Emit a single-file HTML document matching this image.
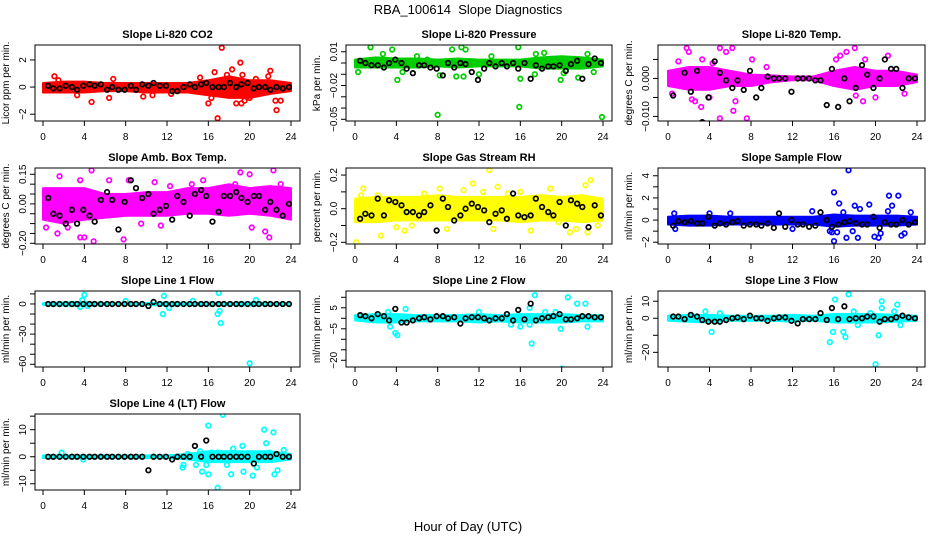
<!DOCTYPE html>
<html><head><meta charset="utf-8"><style>
body{margin:0;background:#fff}
svg{display:block;font-family:"Liberation Sans",sans-serif}
</style></head><body>
<svg id="chart" width="936" height="540">
<text x="468" y="14" text-anchor="middle" font-size="13">RBA_100614&#160;&#160;Slope Diagnostics</text>
<text x="468" y="531" text-anchor="middle" font-size="13">Hour of Day (UTC)</text>
</svg>
<script>
const blackHours=[0.5,1,1.6,2.2,2.8,3.3,3.9,4.5,5.0,5.6,6.2,6.7,7.3,7.9,8.5,9.0,9.6,10.2,10.7,11.3,11.9,12.5,13.0,13.6,14.2,14.7,15.3,15.8,16.4,17.0,17.5,18.1,18.7,19.2,19.8,20.4,20.9,21.5,22.0,22.6,23.2,23.8];
const bandHours=[0,2,4,6,8,10,12,14,16,18,20,22,24];

const co2Hi=[0.3,0.4,0.4,0.3,0.3,0.3,0.3,0.3,0.5,0.8,0.5,0.5,0.3];
const co2Lo=[-0.4,-0.4,-0.4,-0.3,-0.3,-0.4,-0.4,-0.4,-0.6,-0.8,-0.8,-0.5,-0.3];
const co2Out=[[1.1,0.8],[3.3,-0.6],[4.7,-1.1],[6.4,-0.8],[6.8,0.6],[9.7,-0.7],[10.6,-0.6],[15.2,0.7],[16.6,1.1],[16.9,-2.3],[17.3,2.9],[16.0,-1.2],[18.3,1.3],[18.7,-1.2],[19.1,1.8],[19.2,-1.2],[19.5,-1.0],[19.3,0.9],[20.6,0.6],[21.8,0.8],[22.0,1.2],[22.5,-1.0],[22.6,-1.7],[23.0,-1.0],[17.8,0.9],[18.5,0.5],[20.0,-0.8],[1.5,0.5],[12.4,-0.5],[16.3,-0.8]];
const co2Black=[0.1,-0.1,-0.1,0.1,0,-0.2,0.1,0.2,0.1,0.2,-0.2,0,-0.2,-0.2,0.1,-0.2,0.2,0.1,0.3,0.1,0.1,-0.3,-0.3,0,0.2,0,0.2,0.3,0,0,0,0.3,0,0.2,0.3,-0.1,0,0,-0.2,0,-0.1,0];

const presHi=[0.003,0.005,0.004,0.004,0.003,0.004,0.003,0.003,0.003,0.005,0.006,0.005,0.003];
const presLo=[-0.004,-0.004,-0.004,-0.004,-0.003,-0.004,-0.003,-0.003,-0.003,-0.005,-0.005,-0.005,-0.003];
const presOut=[[0.3,-0.008],[1.5,0.014],[3.6,0.012],[4.1,-0.015],[4.6,-0.008],[6.0,0.006],[8.0,-0.046],[8.2,-0.011],[9.4,0.012],[9.8,-0.012],[10.3,0.014],[10.7,0.012],[10.5,-0.012],[12.0,-0.01],[15.8,0.014],[16.0,-0.014],[15.9,-0.039],[17.4,-0.01],[17.5,0.008],[19.9,-0.015],[20.2,-0.009],[21.6,-0.013],[22.5,0.008],[23.1,-0.008],[23.9,-0.048],[2.7,0.008],[7.0,0.003],[13.2,0.006],[18.3,0.009]];
const presBlack=[0.002,0,-0.002,-0.002,-0.004,0,0.003,0,-0.005,-0.009,-0.002,-0.002,-0.004,-0.005,-0.011,0,-0.004,0,-0.001,-0.008,-0.015,-0.005,0,-0.003,0,-0.003,0,-0.005,0,-0.014,-0.002,-0.005,-0.003,-0.003,-0.002,-0.007,-0.001,0.002,-0.014,-0.001,0.004,0];

const tempHi=[0.002,0.003,0.003,0.002,0.001,0.0008,0.0005,0.0005,0.002,0.003,0.002,0.002,0.001];
const tempLo=[-0.002,-0.003,-0.003,-0.002,-0.002,-0.001,-0.0005,-0.0005,-0.002,-0.003,-0.002,-0.002,-0.001];
const tempOut=[[1.8,0.008],[2.0,0.007],[1.0,0.0045],[2.3,-0.0055],[2.6,-0.006],[3.3,0.005],[3.2,-0.0075],[4.3,0.004],[5.0,0.008],[5.0,-0.0105],[5.6,0.007],[6.2,0.008],[6.3,-0.0085],[6.5,-0.006],[7.6,-0.0105],[8.1,0.005],[4.0,-0.005],[16.2,0.005],[16.6,0.006],[17.2,0.007],[18.0,0.008],[18.1,-0.0045],[18.8,-0.006],[19.0,0.005],[20.0,-0.005],[21.2,0.006],[22.8,-0.004],[0.4,-0.004],[9.5,0.003]];
const tempBlack=[-0.0045,-0.0135,0.0015,-0.0035,0.002,-0.0115,-0.005,0.0045,0.0015,-0.0005,-0.0025,-0.0005,-0.003,0.002,-0.005,-0.0025,0.0005,0,0,0,-0.0035,0,0,0,-0.0005,-0.0005,-0.007,0.0025,-0.0075,0,-0.006,-0.0025,0.0035,0.001,-0.0025,0,0.005,0.0025,0.0025,-0.0025,0,0];

const ambHi=[0.08,0.08,0.08,0.05,0.05,0.06,0.06,0.08,0.08,0.1,0.08,0.09,0.08];
const ambLo=[-0.08,-0.1,-0.08,-0.07,-0.06,-0.06,-0.06,-0.05,-0.05,-0.06,-0.05,-0.06,-0.08];
const ambOut=[[1.6,0.14],[0.3,-0.12],[1.4,-0.15],[3.6,0.12],[3.6,-0.17],[4.0,-0.17],[4.7,0.17],[4.9,-0.19],[7.8,-0.18],[8.3,0.12],[10.8,0.11],[14.4,0.1],[18.6,0.1],[19.1,0.16],[20.0,0.15],[20.2,-0.12],[21.5,-0.14],[21.9,-0.17],[22.3,0.17],[23.0,0.1],[6.4,0.12],[2.4,-0.12],[11.4,-0.11],[15.5,0.12],[12.3,0.09],[9.5,-0.1]];
const ambBlack=[0.03,-0.05,-0.06,-0.1,-0.03,-0.1,-0.03,-0.06,-0.09,0.02,0.06,0.02,-0.13,0.01,0.12,0.08,0.03,0.05,-0.05,-0.03,-0.01,-0.08,0.04,0.01,-0.06,0.05,0.07,0.04,-0.09,-0.04,0.04,0.04,0.06,0.03,0.01,0.04,0.04,-0.03,0.01,-0.03,-0.06,0];

const rhHi=[0.06,0.07,0.07,0.07,0.08,0.07,0.07,0.07,0.07,0.08,0.07,0.08,0.06];
const rhLo=[-0.08,-0.08,-0.07,-0.07,-0.07,-0.07,-0.07,-0.07,-0.08,-0.07,-0.07,-0.08,-0.07];
const rhOut=[[0.1,-0.2],[0.6,0.08],[0.8,0.12],[2.5,-0.16],[4.0,-0.11],[4.8,-0.13],[5.5,-0.1],[8.2,0.12],[8.9,-0.12],[10.5,0.11],[11.4,0.15],[12.4,0.1],[13.0,0.23],[13.4,-0.12],[13.8,0.13],[16.0,0.1],[17.0,-0.13],[18.9,0.12],[20.8,-0.14],[21.4,-0.12],[22.3,0.14],[22.8,0.17],[22.5,-0.14],[23.5,-0.1],[6.7,0.09],[2.2,0.08],[14.8,0.09],[19.7,-0.08]];
const rhBlack=[-0.06,-0.03,-0.04,0.06,-0.04,0.05,0.04,0.02,-0.02,-0.02,-0.04,-0.02,0.02,-0.13,0.06,0.01,-0.07,-0.04,0,0.03,0.01,-0.01,-0.08,-0.03,-0.01,-0.06,0.09,-0.04,-0.05,-0.04,0.06,0.01,-0.02,-0.04,0.04,-0.1,0.05,0.03,0.01,-0.11,0.02,-0.04];

const sfHi=[0.3,0.4,0.4,0.3,0.3,0.3,0.3,0.3,0.5,0.4,0.4,0.4,0.3];
const sfLo=[-0.4,-0.5,-0.5,-0.4,-0.4,-0.4,-0.4,-0.4,-0.6,-0.5,-0.5,-0.5,-0.4];
const sfOut=[[0.6,0.6],[0.7,-0.8],[4.0,0.6],[6.0,0.6],[12.0,-0.8],[13.9,0.8],[15.6,-1.0],[15.8,-1.1],[16.0,2.5],[16.3,-1.1],[16.5,1.5],[16.0,-1.9],[17.2,-1.6],[17.4,4.5],[17.8,-1.0],[18.0,1.3],[18.3,-1.6],[18.5,1.0],[19.4,1.4],[19.9,-1.5],[20.3,-1.6],[20.5,-1.2],[21.3,2.2],[21.6,1.3],[22.2,2.2],[22.5,-1.4],[22.8,-1.2],[23.4,0.7],[21.2,0.8],[16.9,0.7]];
const sfBlack=[-0.5,-0.1,-0.2,-0.1,-0.3,-0.3,0.3,-0.5,-0.3,-0.4,-0.2,-0.1,-0.5,-0.4,-0.4,-0.5,-0.3,-0.7,0.6,-0.6,0,-0.4,-0.4,-0.6,-0.5,0.7,0,-0.6,-0.4,-0.2,-0.1,-0.3,-0.4,-0.4,0.3,-0.7,-0.2,-0.4,-0.4,0,-0.4,-0.2];

const l1Hi=[1,1.5,2,1,1,1,1.5,1,1.5,1,1.5,1,1];
const l1Lo=[-1,-1.5,-2,-1,-1,-1,-1.5,-1,-1.5,-1,-1.5,-1,-1];
const l1Out=[[3.8,4],[4.0,9],[3.6,-3],[4.3,-2],[11.6,-10],[11.7,8],[12.2,-4],[16.9,-10],[17.0,11],[17.1,-7],[17.2,-19],[20.0,-59],[20.6,4],[8.0,3],[14.5,3]];
const l1Black=[0,0,0,0,0,0,0,0,0,0,0,0,0,0,0,0,0,-2,2,0,0,0,0,0,0,0,0,0,0,0,0,0,0,0,0,0,0,0,0,0,0,0];

const l2Hi=[1.5,2,2,1.5,1.5,1.5,2,1.5,2,2,2,1.5,1.5];
const l2Lo=[-1,-2,-2,-1.5,-1.5,-1.5,-2,-1.5,-2,-2,-2,-1.5,-1.5];
const l2Out=[[3.4,-4],[3.9,-7],[4.1,-8],[4.9,4.5],[12.0,3],[15.1,-3],[16.0,-4],[16.9,5],[17.1,-12],[17.4,11],[18.4,3],[19.9,-5],[20.0,-24],[20.6,10],[21.5,7],[22.3,7],[22.5,-4],[16.9,-3],[19.4,3],[3.2,3]];
const l2Black=[1.5,1,0,2,1,-1,4.5,-2,-2,-1,0,0.5,-0.5,1,1,0,0.5,-2.5,0,0.5,0.5,0,-1,0,0,2,-1,4,-0.5,7,-1,0,0.5,1,2,-0.5,-0.5,0,1,1,0.5,0.5];

const l3Hi=[1.5,2,2,1.5,1.5,1.5,2,1.5,2.5,2.5,2.5,2,1.5];
const l3Lo=[-1.5,-2,-2.5,-1.5,-1.5,-1.5,-2,-1.5,-2.5,-2.5,-2.5,-2,-1.5];
const l3Out=[[3.6,4],[4.2,-8],[5.0,3],[15.6,-14],[15.9,-8],[16.1,11],[16.9,-8],[17.1,-11],[17.4,14],[17.9,4],[18.3,-4],[19.5,3],[20.0,-27],[20.3,-10],[20.6,10],[20.6,6],[21.8,4],[22.1,8],[22.4,-4],[2.3,1.5]];
const l3Black=[1,1,-0.5,2,1,-1,-2,-2,-2,-1,0,0.5,-0.5,1.5,0,0,-1.5,0,0.5,0.5,-1.5,-3,-0.5,-0.5,-0.5,3,-1,6,-0.5,7,-0.5,0,0,1,1,-2,-0.5,-0.5,0.5,1.5,0.5,0];

const l4Hi=[0.5,0.5,0.5,0.5,0.5,0.5,0.5,1,2,2,2,2,1];
const l4Lo=[-0.5,-0.5,-0.5,-0.5,-0.5,-0.5,-0.5,-1,-2,-2,-2,-2,-1];
const l4Out=[[1.8,1.5],[3.9,-1],[13.5,-4],[13.6,-3],[14.0,1],[14.8,-3],[15.2,2],[15.4,-5.5],[16.0,11.5],[16.0,-6.5],[16.3,1.5],[16.9,-11.5],[16.9,1.5],[17.4,15.5],[17.8,-3],[18.2,-6.5],[18.4,3],[19.3,4],[19.4,-5.5],[20.3,-7],[20.7,-4],[21.4,10],[21.6,5],[22.3,9],[22.4,-6.5],[22.7,-5],[23.3,2.5],[21.9,1.5],[15.8,-3]];
const l4Black=[0,0,0,0,0,0,0,0,0,0,0,0,0,0,0,0,0,-5,0,0,0,-1,0,0,0,4,0,6,0,0,0,0,0,0,0,-2.5,0,0,0,1,0,0];

const xTicks=[0,4,8,12,16,20,24];

const panels=[
 {name:'co2',title:'Slope Li-820 CO2',ylab:'Licor ppm per min.',col:0,row:0,ymin:-2.5,ymax:3.1,ticks:[2,0,-2],labels:['2','0','\u22122'],color:'#ff0000',hi:co2Hi,lo:co2Lo,out:co2Out,blk:co2Black},
 {name:'pressure',title:'Slope Li-820 Pressure',ylab:'kPa per min.',col:1,row:0,ymin:-0.0515,ymax:0.016,ticks:[0.01,0,-0.01,-0.02,-0.03,-0.04,-0.05],labels:['0.01','','','\u22120.02','','','\u22120.05'],color:'#00cd00',hi:presHi,lo:presLo,out:presOut,blk:presBlack},
 {name:'temp',title:'Slope Li-820 Temp.',ylab:'degrees C per min.',col:2,row:0,ymin:-0.0112,ymax:0.0088,ticks:[0.005,0,-0.005,-0.01],labels:['','0.000','','\u22120.010'],color:'#ff00ff',hi:tempHi,lo:tempLo,out:tempOut,blk:tempBlack},
 {name:'amb-box-temp',title:'Slope Amb. Box Temp.',ylab:'degrees C per min.',col:0,row:1,ymin:-0.2035,ymax:0.182,ticks:[0.15,0.1,0.05,0,-0.05,-0.1,-0.15,-0.2],labels:['0.15','','','0.00','','','','\u22120.20'],color:'#ff00ff',hi:ambHi,lo:ambLo,out:ambOut,blk:ambBlack},
 {name:'gas-rh',title:'Slope Gas Stream RH',ylab:'percent per min.',col:1,row:1,ymin:-0.21,ymax:0.242,ticks:[0.2,0.1,0,-0.1,-0.2],labels:['0.2','','0.0','','\u22120.2'],color:'#ffff00',hi:rhHi,lo:rhLo,out:rhOut,blk:rhBlack},
 {name:'sample-flow',title:'Slope Sample Flow',ylab:'ml/min per min.',col:2,row:1,ymin:-2.16,ymax:4.7,ticks:[4,3,2,1,0,-1,-2],labels:['4','','2','','0','','\u22122'],color:'#0000ff',hi:sfHi,lo:sfLo,out:sfOut,blk:sfBlack},
 {name:'line1-flow',title:'Slope Line 1 Flow',ylab:'ml/min per min.',col:0,row:2,ymin:-62.7,ymax:12.9,ticks:[10,0,-10,-20,-30,-40,-50,-60],labels:['','0','','','\u221230','','','\u221260'],color:'#00ffff',hi:l1Hi,lo:l1Lo,out:l1Out,blk:l1Black},
 {name:'line2-flow',title:'Slope Line 2 Flow',ylab:'ml/min per min.',col:1,row:2,ymin:-23.2,ymax:13,ticks:[10,5,0,-5,-10,-15,-20],labels:['','5','','\u22125','','','\u221220'],color:'#00ffff',hi:l2Hi,lo:l2Lo,out:l2Out,blk:l2Black},
 {name:'line3-flow',title:'Slope Line 3 Flow',ylab:'ml/min per min.',col:2,row:2,ymin:-28.6,ymax:16,ticks:[10,0,-10,-20],labels:['10','0','','\u221220'],color:'#00ffff',hi:l3Hi,lo:l3Lo,out:l3Out,blk:l3Black},
 {name:'line4-flow',title:'Slope Line 4 (LT) Flow',ylab:'ml/min per min.',col:0,row:3,ymin:-12.3,ymax:15.8,ticks:[15,10,5,0,-5,-10],labels:['','10','','0','','\u221210'],color:'#00ffff',hi:l4Hi,lo:l4Lo,out:l4Out,blk:l4Black}
];
const colBox=[[35,300,43,291],[346,612,355,603],[658,925,668,917]];
const rowTop=[45,168,291,414];
const BH=76;
const NS='http://www.w3.org/2000/svg';
const svg=document.getElementById('chart');
function mk(tag,attrs,parent){const e=document.createElementNS(NS,tag);for(const k in attrs)e.setAttribute(k,attrs[k]);(parent||svg).appendChild(e);return e;}

panels.forEach(p=>{
  const [bl,br,x0,x24]=colBox[p.col];
  const top=rowTop[p.row], bot=top+BH;
  const xs=h=>x0+(x24-x0)*h/24;
  const ys=v=>bot-(v-p.ymin)/(p.ymax-p.ymin)*BH;
  const g=mk('g',{});
  
  
  const clipId='clip-'+p.name;
  const cp=mk('clipPath',{id:clipId},g);
  mk('rect',{x:bl,y:top,width:br-bl,height:BH},cp);
  const t=mk('text',{x:(bl+br)/2,y:top-7,'text-anchor':'middle','font-size':'11','font-weight':'bold'},g);
  t.textContent=p.title;
  
  
  const yl=mk('text',{x:0,y:0,'text-anchor':'middle','font-size':'10',transform:`translate(${bl-26},${top+BH/2}) rotate(-90)`},g);
  yl.textContent=p.ylab;
  
  
  const plot=mk('g',{'clip-path':`url(#${clipId})`},g);
  let d='';
  bandHours.forEach((h,i)=>{d+=(i?'L':'M')+xs(h).toFixed(1)+','+ys(p.hi[i]).toFixed(1);});
  for(let i=bandHours.length-1;i>=0;i--)d+='L'+xs(bandHours[i]).toFixed(1)+','+ys(p.lo[i]).toFixed(1);
  const band=mk('path',{d:d+'Z',fill:p.color,stroke:p.color,'stroke-width':'2','stroke-linejoin':'round'},plot);
  
  
  p.out.forEach(pt=>{
    const c=mk('circle',{cx:xs(pt[0]),cy:ys(pt[1]),r:2.3,fill:'none',stroke:p.color,'stroke-width':1.7},plot);
    
    
  });
  blackHours.forEach((h,i)=>{
    if(i>=p.blk.length)return;
    const c=mk('circle',{cx:xs(h),cy:ys(p.blk[i]),r:2.3,fill:'none',stroke:'#000','stroke-width':1.7},plot);
    
    
  });
  const box=mk('rect',{x:bl,y:top,width:br-bl,height:BH,fill:'none',stroke:'#000','stroke-width':1},g);
  
  
  xTicks.forEach(h=>{
    mk('line',{x1:xs(h),x2:xs(h),y1:bot,y2:bot+5,stroke:'#000'},g);
    const tl=mk('text',{x:xs(h),y:bot+19,'text-anchor':'middle','font-size':'10'},g);
    tl.textContent=h;
    
    
  });
  p.ticks.forEach((v,i)=>{
    const y=ys(v);
    mk('line',{x1:bl-5,x2:bl,y1:y,y2:y,stroke:'#000'},g);
    if(p.labels[i]){
      const tl=mk('text',{x:0,y:0,'text-anchor':'middle','font-size':'10',transform:`translate(${bl-9},${y}) rotate(-90)`},g);
      tl.textContent=p.labels[i];
      
      
    }
  });
});
</script>
</body></html>
